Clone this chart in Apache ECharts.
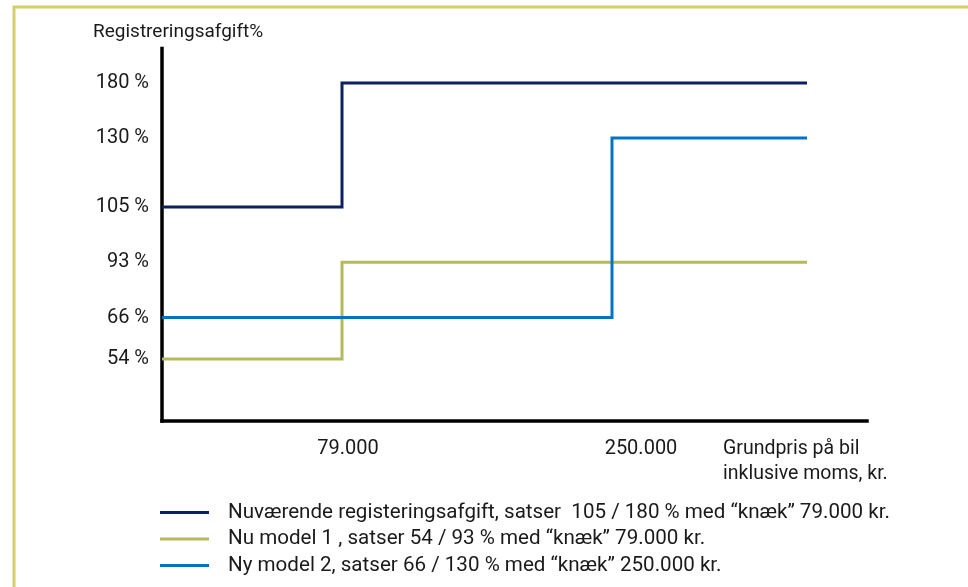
<!DOCTYPE html>
<html>
<head>
<meta charset="utf-8">
<script src="https://cdn.jsdelivr.net/npm/echarts@6/dist/echarts.min.js"></script>
<style>
  html, body { margin: 0; padding: 0; background: #ffffff; }
  #chart { width: 968px; height: 587px; }
</style>
</head>
<body>
<div id="chart"></div>
<script>
// Registration tax models: a low rate up to a price "knee", a high rate above it.
const seriesNames = [
  'Nuværende registeringsafgift, satser  105 / 180 % med “knæk” 79.000 kr.',
  'Nu model 1 , satser 54 / 93 % med “knæk” 79.000 kr.',
  'Ny model 2, satser 66 / 130 % med “knæk” 250.000 kr.'
];
const lowRates = [105, 54, 66];            // % below the knee
const highRates = [180, 93, 130];          // % above the knee
const kneePrices = [79000, 79000, 250000]; // kr.

// Tick labels on the two axes
const rateTicks = [54, 66, 93, 105, 130, 180];
const priceTicks = [79000, 250000];

const seriesColors = ['#0b2161', '#b5b958', '#0872c2'];

// The schematic axes are not drawn to scale: each one is a category axis
// whose slots are spread out by these spacing steps.
const rateSpacing = { below: 4, between: [3, 4, 4, 5, 4], above: 2 };
const priceSpacing = [12, 18, 13, 4]; // start→tick, tick→tick, tick→line end, line end→axis end

function buildRateCategories() {
  const cats = [];
  let n = 0;
  const spacer = () => cats.push('y' + (n++));
  for (let k = 0; k < rateSpacing.below; k++) spacer();
  rateTicks.forEach((t, i) => {
    if (i > 0) for (let k = 1; k < rateSpacing.between[i - 1]; k++) spacer();
    cats.push(String(t));
  });
  for (let k = 0; k < rateSpacing.above; k++) spacer();
  return cats;
}

function buildPriceCategories() {
  const names = ['start'].concat(priceTicks.map(String), ['end', 'axisEnd']);
  const cats = [names[0]];
  let n = 0;
  priceSpacing.forEach((gap, i) => {
    for (let k = 1; k < gap; k++) cats.push('x' + (n++));
    cats.push(names[i + 1]);
  });
  return cats;
}

const rateCats = buildRateCategories();
const priceCats = buildPriceCategories();
const rateNames = rateTicks.map(String);

const fmtPrice = v => String(v).replace(/\B(?=(\d{3})+(?!\d))/g, '.');

const FONT = 'Roboto';
const INK = '#1a1a1a';
const chart = echarts.init(document.getElementById('chart'), null, { renderer: 'canvas' });

chart.setOption({
  animation: false,
  backgroundColor: '#ffffff',
  textStyle: { fontFamily: FONT, color: INK },
  grid: { left: 162, right: 101, top: 48.4, bottom: 166, containLabel: false },
  xAxis: {
    type: 'category',
    data: priceCats,
    boundaryGap: false,
    axisLine: { lineStyle: { color: '#000', width: 3.5, cap: 'square' } },
    axisTick: { show: false },
    splitLine: { show: false },
    axisLabel: {
      interval: 0,
      margin: 18,
      fontFamily: FONT,
      fontSize: 20,
      color: INK,
      formatter: v => {
        if (v === String(priceTicks[0])) return '{a|' + fmtPrice(v) + '}';
        if (v === String(priceTicks[1])) return '{b|' + fmtPrice(v) + '}';
        return '';
      },
      rich: {
        a: { fontFamily: FONT, fontSize: 20, color: INK, padding: [0, 0, 0, 12] },
        b: { fontFamily: FONT, fontSize: 20, color: INK, padding: [0, 0, 0, 58] }
      }
    }
  },
  yAxis: {
    type: 'category',
    data: rateCats,
    boundaryGap: true,
    axisLine: { lineStyle: { color: '#000', width: 3.5, cap: 'square' } },
    axisTick: { show: false },
    splitLine: { show: false },
    axisLabel: {
      interval: 0,
      margin: 13,
      fontFamily: FONT,
      fontSize: 20,
      color: INK,
      formatter: v => rateNames.includes(v) ? v + ' %' : ''
    }
  },
  legend: {
    orient: 'vertical',
    left: 155,
    top: 497,
    icon: 'rect',
    itemWidth: 49,
    itemHeight: 3,
    itemGap: 5.5,
    textStyle: { fontFamily: FONT, fontSize: 20.6, color: INK, lineHeight: 20, padding: [0, 0, 0, 14] },
    data: seriesNames
  },
  graphic: [
    {
      type: 'polyline',
      silent: true,
      shape: { points: [[14, 587], [14, 7], [968, 7]] },
      style: { stroke: '#d6ce69', lineWidth: 3, fill: null }
    },
    {
      type: 'text',
      left: 93,
      top: 23,
      style: { text: 'Registreringsafgift%', font: '19px ' + FONT, fill: INK }
    },
    {
      type: 'text',
      left: 723,
      top: 437,
      style: { text: 'Grundpris på bil\ninklusive moms, kr.', font: '19.5px ' + FONT, lineHeight: 25, fill: INK }
    }
  ],
  series: seriesNames.map((name, i) => ({
    name,
    type: 'line',
    step: 'end',
    showSymbol: false,
    symbol: 'none',
    color: seriesColors[i],
    lineStyle: { width: 3, color: seriesColors[i], cap: 'butt', join: 'miter' },
    data: [
      ['start', String(lowRates[i])],
      [String(kneePrices[i]), String(highRates[i])],
      ['end', String(highRates[i])]
    ]
  }))
});
</script>
</body>
</html>
